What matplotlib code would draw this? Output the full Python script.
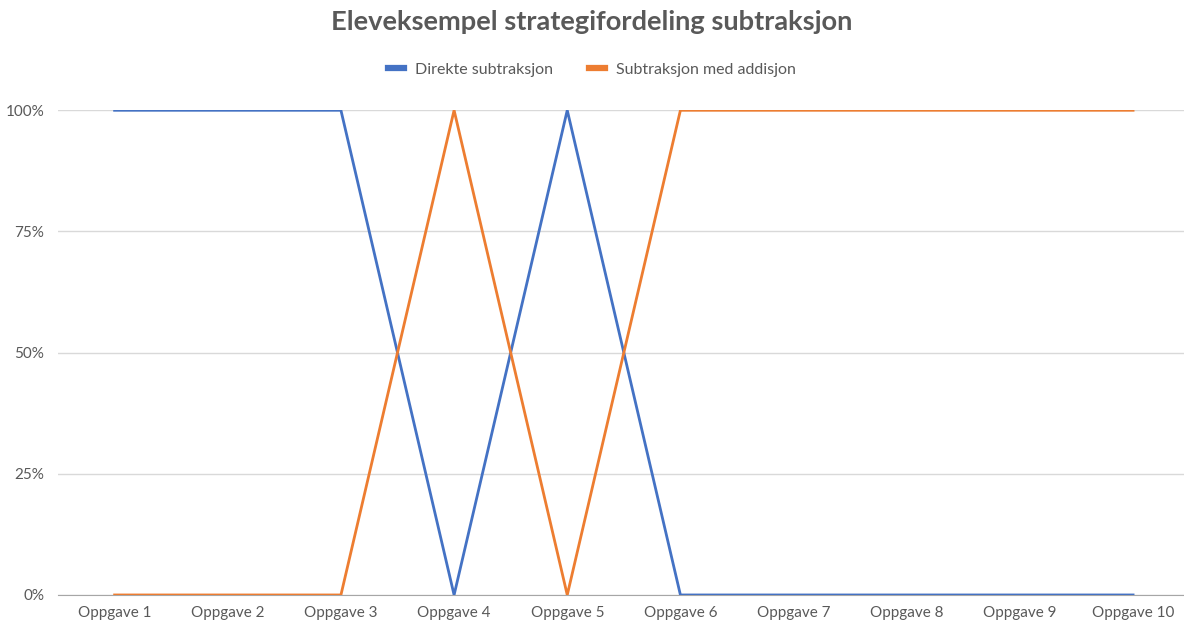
import matplotlib.pyplot as plt
from matplotlib.ticker import PercentFormatter

plt.rcParams['font.family'] = ['Lato', 'DejaVu Sans']

categories = ['Oppgave %d' % i for i in range(1, 11)]
direkte = [100, 100, 100, 0, 100, 0, 0, 0, 0, 0]
med_addisjon = [0, 0, 0, 100, 0, 100, 100, 100, 100, 100]

blue = '#4472C4'
orange = '#ED7D31'
text_color = '#595959'

fig = plt.figure(figsize=(11.84, 6.23), dpi=100)
ax = fig.add_axes([0.049, 0.045, 0.951, 0.778])

x = range(len(categories))
ax.plot(x, direkte, color=blue, lw=2, label='Direkte subtraksjon', solid_joinstyle='miter', zorder=3)
ax.plot(x, med_addisjon, color=orange, lw=2, label='Subtraksjon med addisjon', solid_joinstyle='miter', zorder=3)

ax.set_xlim(-0.5, 9.45)
ax.set_ylim(0, 100)
ax.set_yticks([0, 25, 50, 75, 100])
ax.yaxis.set_major_formatter(PercentFormatter(decimals=0))
ax.set_xticks(list(x))
ax.set_xticklabels(categories)
ax.grid(axis='y', color='#D9D9D9', lw=1)
ax.set_axisbelow(True)
for s in ['top', 'left', 'right']:
    ax.spines[s].set_visible(False)
ax.spines['bottom'].set_color('#A6A6A6')
ax.tick_params(length=0, labelsize=11, colors=text_color, pad=8)
ax.tick_params(axis='y', pad=10)

fig.text(0.5, 0.965, 'Eleveksempel strategifordeling subtraksjon', ha='center', va='center',
         fontsize=19.6, fontweight='bold', color=text_color)
fig.legend(loc='center', bbox_to_anchor=(0.5, 0.888), ncol=2, frameon=False, fontsize=11.5,
           handlelength=1.0, columnspacing=2.2, labelcolor=text_color, handletextpad=0.7)
for h in fig.legends[0].get_lines():
    h.set_linewidth(4.5)

fig.savefig('out.png', dpi=100)
